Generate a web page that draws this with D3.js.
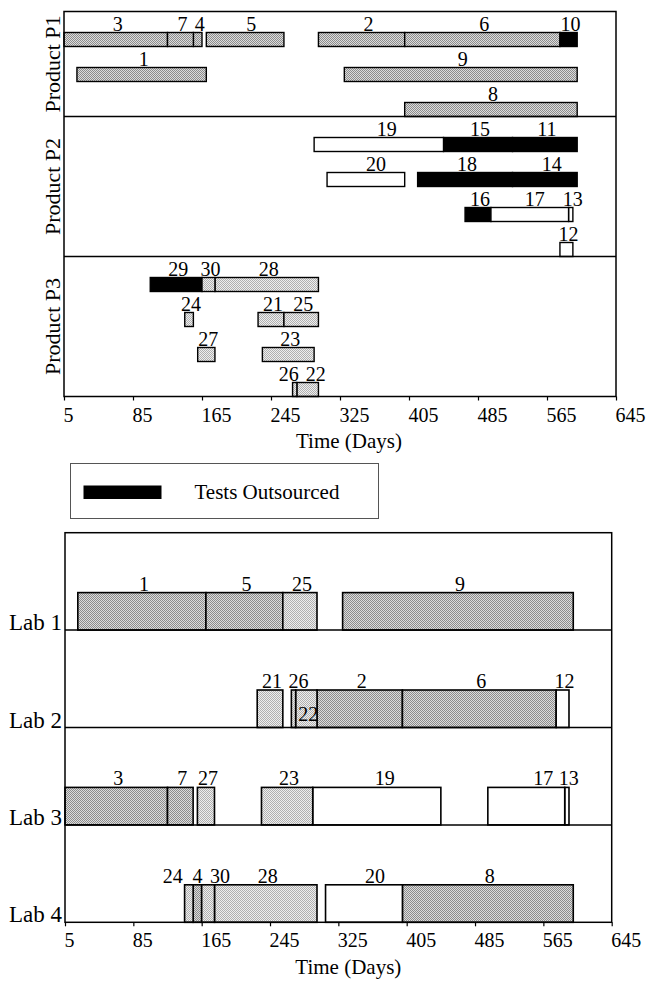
<!DOCTYPE html>
<html>
<head>
<meta charset="utf-8">
<script src="https://cdn.jsdelivr.net/npm/d3@7"></script>
<style>
  body { margin: 0; background: #fff; }
  svg { display: block; font-family: 'Liberation Serif', 'Times New Roman', serif; }
  .bar-label { font-size: 20px; text-anchor: middle; fill: #000; }
  .side-label { font-size: 22px; fill: #000; }
  .lab-label { font-size: 23px; fill: #000; }
  .axis-title { font-size: 21px; text-anchor: middle; fill: #000; }
</style>
</head>
<body>
<svg id="chart" width="649" height="982"></svg>
<script>
// test schedule (days)
const testIds     = [1, 2, 3, 4, 5, 6, 7, 8, 9, 10, 11, 12, 13, 14, 15, 16, 17, 18, 19, 20, 21, 22, 23, 24, 25, 26, 27, 28, 29, 30];
const testProduct = ['P1', 'P1', 'P1', 'P1', 'P1', 'P1', 'P1', 'P1', 'P1', 'P1',
                     'P2', 'P2', 'P2', 'P2', 'P2', 'P2', 'P2', 'P2', 'P2', 'P2',
                     'P3', 'P3', 'P3', 'P3', 'P3', 'P3', 'P3', 'P3', 'P3', 'P3'];
const testRow     = [1, 0, 0, 0, 0, 0, 0, 2, 1, 0,  0, 3, 2, 1, 0, 2, 2, 1, 0, 1,  1, 3, 2, 1, 1, 3, 2, 0, 0, 0];
// lab that runs the test, null = outsourced
const testLab     = [1, 2, 3, 4, 1, 2, 3, 4, 1, null,  null, 2, 3, null, null, null, 3, null, 3, 4,  2, 2, 3, 4, 1, 2, 3, 4, null, 4];
const testStart   = [20, 300, 5, 155, 170, 400, 125, 400, 330, 580,  525, 580, 590, 525, 445, 470, 500, 415, 295, 310,  230, 275, 235, 145, 260, 270, 160, 180, 105, 165];
const testEnd     = [170, 400, 125, 165, 260, 580, 155, 600, 600, 600,  600, 595, 595, 600, 525, 500, 590, 525, 445, 400,  260, 300, 295, 155, 300, 275, 180, 300, 165, 180];

const products    = ['P1', 'P2', 'P3'];
const productRows = [3, 4, 4];
const labs        = [1, 2, 3, 4];
const dayTicks    = [5, 85, 165, 245, 325, 405, 485, 565, 645];

const TOP = { left: 64, right: 616, top: 11.5, rowStep: 35 };
const LAB = { left: 65, right: 611.7, top: 532.7, bottom: 922.3, barH: 37.5 };
const LABEL_DX = 2;
// small nudges so that crowded labels sit where they do in the figure
const TOP_NUDGE = { 2: 5, 5: 4, 14: 5, 17: 3, 19: 6, 20: 8, 22: 6, 26: -8 };
const LAB_NUDGE = { 4: -2, 17: 15, 19: 6, 20: 9, 24: -18, 26: 3, 30: 10 };
const LAB_INSIDE = [22];

const tests = testIds.map((id, i) => ({
  id,
  product: testProduct[i],
  row: testRow[i],
  lab: testLab[i],
  start: testStart[i],
  end: testEnd[i]
}));

const $svg = d3.select('#chart');
const $defs = $svg.append('defs');

// halftone-like grey fills
function checker(id, dark, light) {
  const p = $defs.append('pattern')
    .attr('id', id)
    .attr('width', 2)
    .attr('height', 2)
    .attr('patternUnits', 'userSpaceOnUse');
  p.append('rect').attr('width', 2).attr('height', 2).attr('fill', light);
  p.append('rect').attr('width', 1).attr('height', 1).attr('fill', dark);
  p.append('rect').attr('x', 1).attr('y', 1).attr('width', 1).attr('height', 1).attr('fill', dark);
}
checker('fill-p1', '#8c8c8c', '#dcdcdc');
checker('fill-p3', '#b0b0b0', '#efefef');

function fillFor(d) {
  if (d.lab === null) return '#000';
  if (d.product === 'P2') return '#fff';
  return d.product === 'P1' ? 'url(#fill-p1)' : 'url(#fill-p3)';
}

function styleAxis(g) {
  g.attr('font-family', null).attr('font-size', null);
  g.select('.domain').remove();
  g.selectAll('.tick line').attr('stroke', '#000').attr('stroke-width', 1.2);
  g.selectAll('.tick text')
    .attr('fill', '#000')
    .attr('font-size', 20)
    .attr('text-anchor', 'start')
    .attr('dx', -1);
}

// ---------- top chart: tests by product ----------
function productChart() {
  const x = d3.scaleLinear()
    .domain([dayTicks[0], dayTicks[dayTicks.length - 1]])
    .range([TOP.left, TOP.right]);

  let y0 = TOP.top;
  products.forEach((p, pi) => {
    const n = productRows[pi];
    const h = TOP.rowStep * n;
    const yRow = d3.scaleBand()
      .domain(d3.range(n))
      .range([y0, y0 + h])
      .paddingInner(0.6)
      .paddingOuter(0.3)
      .align(1);

    const data = tests.filter(d => d.product === p);
    const $g = $svg.append('g').attr('class', 'panel');

    $g.selectAll('rect.bar')
      .data(data)
      .join('rect')
      .attr('class', 'bar')
      .attr('x', d => x(d.start))
      .attr('y', d => yRow(d.row))
      .attr('width', d => x(d.end) - x(d.start))
      .attr('height', yRow.bandwidth())
      .attr('fill', fillFor)
      .attr('stroke', '#000')
      .attr('stroke-width', 1.4);

    $g.selectAll('text.bar-label')
      .data(data)
      .join('text')
      .attr('class', 'bar-label')
      .attr('x', d => (x(d.start) + x(d.end)) / 2 + LABEL_DX + (TOP_NUDGE[d.id] || 0))
      .attr('y', d => yRow(d.row) - 2)
      .text(d => d.id);

    $svg.append('text')
      .attr('class', 'side-label')
      .attr('text-anchor', 'middle')
      .attr('transform', `translate(60,${y0 + h / 2}) rotate(-90)`)
      .text(`Product ${p}`);

    if (pi > 0) {
      $svg.append('line')
        .attr('x1', TOP.left).attr('x2', TOP.right)
        .attr('y1', y0).attr('y2', y0)
        .attr('stroke', '#000').attr('stroke-width', 1.5);
    }
    y0 += h;
  });

  $svg.append('rect')
    .attr('x', TOP.left).attr('y', TOP.top)
    .attr('width', TOP.right - TOP.left).attr('height', y0 - TOP.top)
    .attr('fill', 'none').attr('stroke', '#000').attr('stroke-width', 1.5);

  const axisX = d3.axisBottom(x)
    .tickValues(dayTicks)
    .tickFormat(d3.format('d'))
    .tickSizeInner(4)
    .tickSizeOuter(0)
    .tickPadding(7);

  $svg.append('g')
    .attr('transform', `translate(0,${y0})`)
    .call(axisX)
    .call(styleAxis);

  $svg.append('text')
    .attr('class', 'axis-title')
    .attr('x', (TOP.left + TOP.right) / 2 + 9)
    .attr('y', y0 + 51)
    .text('Time (Days)');
}

// ---------- legend ----------
function legend() {
  const $g = $svg.append('g').attr('transform', 'translate(70.5,463.5)');
  $g.append('rect')
    .attr('width', 308).attr('height', 55)
    .attr('fill', '#fff').attr('stroke', '#555').attr('stroke-width', 1);
  $g.append('rect')
    .attr('x', 13).attr('y', 22).attr('width', 78).attr('height', 13.5)
    .attr('fill', '#000');
  $g.append('text')
    .attr('x', 124).attr('y', 35.5)
    .attr('font-size', 21)
    .text('Tests Outsourced');
}

// ---------- bottom chart: tests by lab ----------
function labChart() {
  const x = d3.scaleLinear()
    .domain([dayTicks[0], dayTicks[dayTicks.length - 1]])
    .range([LAB.left, LAB.right]);

  const yLab = d3.scaleBand()
    .domain(labs)
    .range([LAB.top, LAB.bottom])
    .padding(0);

  const data = tests.filter(d => d.lab !== null);
  const barTop = d => yLab(d.lab) + yLab.bandwidth() - LAB.barH;

  $svg.append('g').selectAll('rect.bar')
    .data(data)
    .join('rect')
    .attr('class', 'bar')
    .attr('x', d => x(d.start))
    .attr('y', barTop)
    .attr('width', d => x(d.end) - x(d.start))
    .attr('height', LAB.barH)
    .attr('fill', fillFor)
    .attr('stroke', '#000')
    .attr('stroke-width', 1.6);

  $svg.append('g').selectAll('text.bar-label')
    .data(data)
    .join('text')
    .attr('class', 'bar-label')
    .attr('x', d => (x(d.start) + x(d.end)) / 2 + LABEL_DX + (LAB_NUDGE[d.id] || 0))
    .attr('y', d => LAB_INSIDE.includes(d.id) ? barTop(d) + LAB.barH - 7 : barTop(d) - 2)
    .text(d => d.id);

  // row base lines
  $svg.append('g').selectAll('line')
    .data(labs.slice(0, -1))
    .join('line')
    .attr('x1', LAB.left).attr('x2', LAB.right)
    .attr('y1', d => yLab(d) + yLab.bandwidth())
    .attr('y2', d => yLab(d) + yLab.bandwidth())
    .attr('stroke', '#000').attr('stroke-width', 1.5);

  $svg.append('g').selectAll('text.lab-label')
    .data(labs)
    .join('text')
    .attr('class', 'lab-label')
    .attr('text-anchor', 'end')
    .attr('x', LAB.left - 3)
    .attr('y', d => yLab(d) + yLab.bandwidth())
    .text(d => `Lab ${d}`);

  $svg.append('rect')
    .attr('x', LAB.left).attr('y', LAB.top)
    .attr('width', LAB.right - LAB.left).attr('height', LAB.bottom - LAB.top)
    .attr('fill', 'none').attr('stroke', '#000').attr('stroke-width', 1.5);

  const axisX = d3.axisBottom(x)
    .tickValues(dayTicks)
    .tickFormat(d3.format('d'))
    .tickSizeInner(4)
    .tickSizeOuter(0)
    .tickPadding(7);

  $svg.append('g')
    .attr('transform', `translate(0,${LAB.bottom})`)
    .call(axisX)
    .call(styleAxis);

  $svg.append('text')
    .attr('class', 'axis-title')
    .attr('x', (LAB.left + LAB.right) / 2 + 10)
    .attr('y', LAB.bottom + 52)
    .text('Time (Days)');
}

productChart();
legend();
labChart();
</script>
</body>
</html>
